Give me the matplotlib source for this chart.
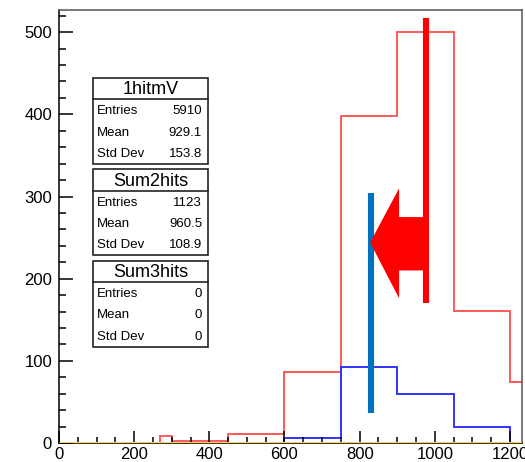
import numpy as np
import matplotlib
matplotlib.use("Agg")
import matplotlib.pyplot as plt
from matplotlib.patches import Rectangle, Polygon
from matplotlib.ticker import MultipleLocator

plt.rcParams['font.family'] = ['Liberation Sans', 'DejaVu Sans']

# 直方圖資料
red_edges = [270, 300, 450, 600, 750, 900, 1050, 1200, 1260]
red_counts = [8, 3, 11, 87, 398, 500, 161, 74]
blue_edges = [600, 750, 900, 1050, 1200]
blue_counts = [6, 93, 60, 20]
yellow_edges = [0, 1260]
yellow_counts = [0]

# 統計框
box_names = ["1hitmV", "Sum2hits", "Sum3hits"]
box_entries = ["5910", "1123", "0"]
box_means = ["929.1", "960.5", "0"]
box_stds = ["153.8", "108.9", "0"]

# 標註
blue_mark_x = 830
blue_mark_y = [36, 304]
red_mark_x = 976
red_mark_y = [170, 517]
arrow_tip = (828, 244)
arrow_head_x = 905
arrow_head_y = [176, 310]
arrow_shaft_y = [210, 275]

W, H = 525, 462
fig = plt.figure(figsize=(W / 100, H / 100), dpi=100)
ax = fig.add_axes([59 / W, (H - 443) / H, (522 - 59) / W, (443 - 10) / H])

ax.stairs(red_counts, red_edges, color="#ff5a5a", lw=1.4, baseline=0)
ax.stairs(blue_counts, blue_edges, color="#3333ff", lw=1.4, baseline=0)
ax.stairs(yellow_counts, yellow_edges, color="#f7d048", lw=2.2, baseline=None, zorder=5)

ax.plot([blue_mark_x, blue_mark_x], blue_mark_y, color="#0070c0", lw=4.4, solid_capstyle="butt")
ax.plot([red_mark_x, red_mark_x], red_mark_y, color="#ff0000", lw=4.4, solid_capstyle="butt")
arrow = Polygon([arrow_tip,
                 (arrow_head_x, arrow_head_y[1]),
                 (arrow_head_x, arrow_shaft_y[1]),
                 (red_mark_x, arrow_shaft_y[1]),
                 (red_mark_x, arrow_shaft_y[0]),
                 (arrow_head_x, arrow_shaft_y[0]),
                 (arrow_head_x, arrow_head_y[0])],
                closed=True, facecolor="#ff0000", edgecolor="none", zorder=4)
ax.add_patch(arrow)

ax.set_xlim(0, 1232)
ax.set_ylim(0, 527)
ax.xaxis.set_major_locator(MultipleLocator(200))
ax.xaxis.set_minor_locator(MultipleLocator(50))
ax.yaxis.set_major_locator(MultipleLocator(100))
ax.yaxis.set_minor_locator(MultipleLocator(20))
ax.tick_params(which="both", direction="in", top=False, right=False, labelsize=12, width=1.1)
ax.tick_params(axis="y", which="major", length=10, pad=5)
ax.tick_params(axis="y", which="minor", length=5)
ax.tick_params(axis="x", which="major", length=9, pad=3)
ax.tick_params(axis="x", which="minor", length=4.5)
for s in ["left", "bottom"]:
    ax.spines[s].set_linewidth(1.1)
for s in ["top", "right"]:
    ax.spines[s].set_color("#555555")
    ax.spines[s].set_linewidth(1.1)

# 統計框位置 (像素)
def fx(px):
    return px / W

def fy(py):
    return 1 - py / H

box_top = [78, 169, 261]
box_sep = [99, 191, 282]
box_bot = [164, 255, 347]
box_left, box_right = 93, 208
for i, name in enumerate(box_names):
    fig.patches.append(Rectangle((fx(box_left), fy(box_bot[i])), fx(box_right) - fx(box_left),
                                 fy(box_top[i]) - fy(box_bot[i]), transform=fig.transFigure,
                                 facecolor="white", edgecolor="#222222", lw=1.2, zorder=10))
    fig.lines.append(plt.Line2D([fx(box_left), fx(box_right)], [fy(box_sep[i])] * 2,
                                transform=fig.transFigure, color="#222222", lw=1.2, zorder=11))
    fig.text(fx((box_left + box_right) / 2), fy((box_top[i] + box_sep[i]) / 2 + 1), name,
             ha="center", va="center", fontsize=13, zorder=12)
    step = (box_bot[i] - box_sep[i]) / 3
    rows = [("Entries", box_entries[i]), ("Mean", box_means[i]), ("Std Dev", box_stds[i])]
    for j, (lab, val) in enumerate(rows):
        yy = fy(box_sep[i] + step * (j + 0.5) + 1)
        fig.text(fx(97), yy, lab, ha="left", va="center", fontsize=9.5, zorder=12)
        fig.text(fx(202), yy, val, ha="right", va="center", fontsize=9.5, zorder=12)

fig.savefig("out.png", dpi=100)
